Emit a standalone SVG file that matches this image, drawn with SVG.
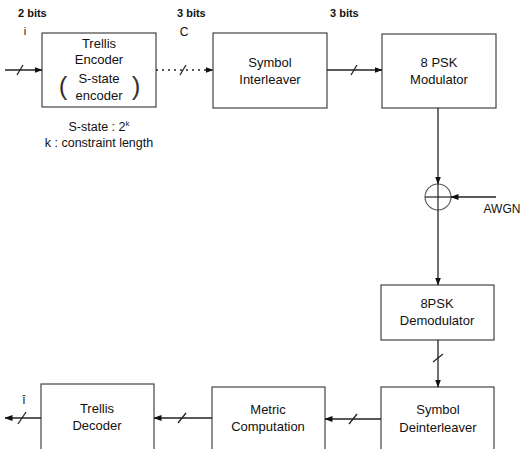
<svg xmlns="http://www.w3.org/2000/svg" width="522" height="449" viewBox="0 0 522 449">
<style>
  .box{fill:#fff;stroke:#444;stroke-width:1.2}
  .t{font-family:"Liberation Sans",Arial,sans-serif;font-size:13px;fill:#111;text-anchor:middle}
  .s{font-family:"Liberation Sans",Arial,sans-serif;font-size:11px;font-weight:bold;fill:#111}
  .n{font-family:"Liberation Sans",Arial,sans-serif;font-size:12.5px;fill:#111;text-anchor:middle}
  .c{stroke:#222;stroke-width:1.3;fill:none}
  .tick{stroke:#222;stroke-width:1.3}
</style>
<defs>
  <marker id="ah" markerWidth="8" markerHeight="6" refX="7.5" refY="3" orient="auto" markerUnits="userSpaceOnUse">
    <path d="M0,0 L8,3 L0,6 Z" fill="#111"/>
  </marker>
</defs>
<rect width="522" height="449" fill="#fff"/>

<g id="labels">
  <text class="s" x="18" y="17">2 bits</text>
  <text class="s" x="177" y="17">3 bits</text>
  <text class="s" x="330" y="17">3 bits</text>
  <text class="n" x="25" y="35" style="font-size:11px">i</text>
  <text class="n" x="184" y="36" style="font-size:12px">C</text>
  <text class="n" x="99" y="131">S-state : 2<tspan dy="-5" style="font-size:8px">k</tspan></text>
  <text class="n" x="99" y="147">k : constraint length</text>
  <text class="n" x="502" y="213" style="font-size:12px">AWGN</text>
  <text class="n" x="24" y="404" style="font-size:12px">î</text>
</g>

<g id="trellis-encoder">
  <rect class="box" x="42" y="33" width="114" height="74"/>
  <text class="t" x="99" y="48">Trellis</text>
  <text class="t" x="99" y="64">Encoder</text>
  <text class="t" x="99" y="83">S-state</text>
  <text class="t" x="99" y="100">encoder</text>
  <text class="t" x="63" y="95" style="font-size:26px;fill:#333">(</text>
  <text class="t" x="136" y="95" style="font-size:26px;fill:#333">)</text>
</g>

<g id="symbol-interleaver">
  <rect class="box" x="213" y="33" width="114" height="75"/>
  <text class="t" x="270" y="67">Symbol</text>
  <text class="t" x="270" y="84">Interleaver</text>
</g>

<g id="psk-modulator">
  <rect class="box" x="382" y="34" width="114" height="74"/>
  <text class="t" x="439" y="67">8 PSK</text>
  <text class="t" x="439" y="84">Modulator</text>
</g>

<g id="adder">
  <circle cx="438" cy="197" r="13" fill="#fff" stroke="#555" stroke-width="1.1"/>
  <line x1="425" y1="197" x2="451" y2="197" stroke="#222" stroke-width="1.2"/>
  <line x1="438" y1="184" x2="438" y2="210" stroke="#222" stroke-width="1.2"/>
</g>

<g id="psk-demodulator">
  <rect class="box" x="381" y="285" width="113" height="55"/>
  <text class="t" x="437" y="308">8PSK</text>
  <text class="t" x="437" y="325">Demodulator</text>
</g>

<g id="symbol-deinterleaver">
  <rect class="box" x="381" y="387" width="113" height="70"/>
  <text class="t" x="438" y="414">Symbol</text>
  <text class="t" x="438" y="432">Deinterleaver</text>
</g>

<g id="metric-computation">
  <rect class="box" x="212" y="387" width="113" height="70"/>
  <text class="t" x="268" y="414">Metric</text>
  <text class="t" x="268" y="431">Computation</text>
</g>

<g id="trellis-decoder">
  <rect class="box" x="41" y="384" width="113" height="73"/>
  <text class="t" x="97" y="413">Trellis</text>
  <text class="t" x="97" y="430">Decoder</text>
</g>

<g id="connectors">
  <line class="c" x1="5" y1="70" x2="42" y2="70" marker-end="url(#ah)"/>
  <line class="tick" x1="17" y1="75" x2="23" y2="65"/>
  <line class="c" x1="156" y1="70" x2="213" y2="70" stroke="#555" stroke-dasharray="2 4" marker-end="url(#ah)"/>
  <line class="tick" x1="180" y1="75" x2="186" y2="65"/>
  <line class="c" x1="327" y1="70" x2="382" y2="70" marker-end="url(#ah)"/>
  <line class="tick" x1="351" y1="75" x2="357" y2="65"/>
  <line class="c" x1="438" y1="108" x2="438" y2="184" marker-end="url(#ah)"/>
  <line class="c" x1="496" y1="197" x2="451" y2="197" marker-end="url(#ah)"/>
  <line class="c" x1="438" y1="210" x2="438" y2="285" marker-end="url(#ah)"/>
  <line class="c" x1="438" y1="340" x2="438" y2="387" marker-end="url(#ah)"/>
  <line class="tick" x1="433" y1="362" x2="443" y2="354"/>
  <line class="c" x1="381" y1="419" x2="325" y2="419" marker-end="url(#ah)"/>
  <line class="tick" x1="349" y1="424" x2="357" y2="414"/>
  <line class="c" x1="212" y1="418" x2="154" y2="418" marker-end="url(#ah)"/>
  <line class="tick" x1="178" y1="423" x2="186" y2="413"/>
  <line class="c" x1="41" y1="418" x2="5" y2="418" marker-end="url(#ah)"/>
  <line class="tick" x1="18" y1="424" x2="26" y2="412"/>
</g>
</svg>
